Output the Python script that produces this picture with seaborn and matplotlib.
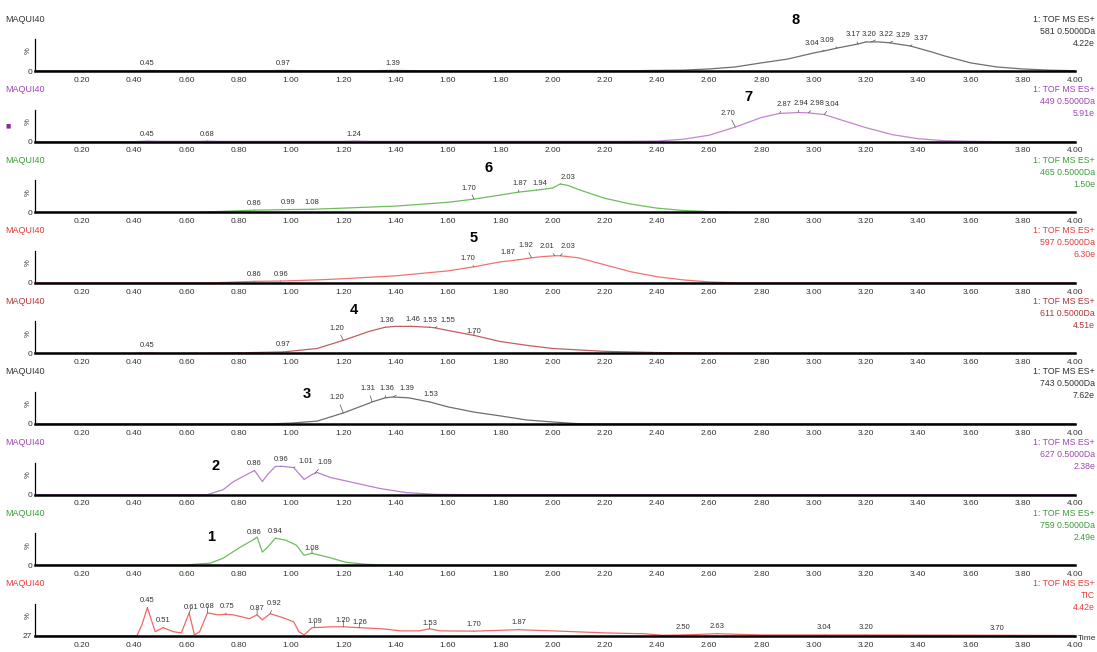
import numpy as np
import matplotlib
matplotlib.use("Agg")
import matplotlib.pyplot as plt
import seaborn as sns

W, H = 1097, 652

# ---- traces: retention time (min) vs relative intensity (%) ----
t8 = [0.02, 0.40, 0.45, 0.50, 0.90, 0.97, 1.05, 1.30, 1.39, 1.50, 2.30, 2.50, 2.60, 2.70, 2.80, 2.90,
      3.00, 3.04, 3.09, 3.17, 3.20, 3.22, 3.25, 3.29, 3.37, 3.45, 3.50, 3.60, 3.70, 3.80, 3.90, 4.00]
v8 = [0, 0, 2, 1, 1, 2, 1, 1, 2, 1, 1, 3, 7, 14, 28, 41,
      62, 69, 79, 93, 100, 100, 100, 97, 86, 66, 52, 28, 14, 7, 3, 1]

t7 = [0.02, 0.40, 0.45, 0.50, 0.65, 0.68, 0.72, 1.20, 1.24, 1.30, 2.30, 2.40, 2.50, 2.60, 2.70, 2.80,
      2.87, 2.94, 2.98, 3.04, 3.10, 3.20, 3.30, 3.40, 3.50, 3.60, 3.70, 4.00]
v7 = [0, 0, 2, 1, 1, 2, 1, 1, 2, 1, 1, 2, 8, 22, 50, 83,
      97, 100, 99, 93, 76, 48, 24, 10, 3, 1, 0, 0]

t6 = [0.02, 0.65, 0.80, 0.86, 0.99, 1.08, 1.20, 1.40, 1.60, 1.70, 1.80, 1.87, 1.94, 2.00, 2.03, 2.06,
      2.10, 2.20, 2.30, 2.40, 2.50, 2.60, 2.70, 4.00]
v6 = [0, 0, 5, 7, 9, 10, 14, 21, 34, 45, 59, 69, 76, 83, 97, 92,
      78, 48, 28, 14, 6, 2, 0, 0]

t5 = [0.02, 0.70, 0.86, 0.96, 1.10, 1.20, 1.40, 1.60, 1.70, 1.80, 1.87, 1.92, 1.96, 2.01, 2.03, 2.10,
      2.20, 2.30, 2.40, 2.50, 2.60, 2.70, 4.00]
v5 = [0, 0, 5, 6, 10, 14, 24, 41, 55, 72, 79, 86, 90, 93, 93, 86,
      62, 38, 21, 10, 3, 0, 0]

t4 = [0.02, 0.40, 0.45, 0.50, 0.60, 0.80, 0.97, 1.10, 1.20, 1.30, 1.36, 1.40, 1.46, 1.53, 1.55, 1.60,
      1.70, 1.80, 1.90, 2.00, 2.20, 2.40, 2.60, 2.80, 4.00]
v4 = [0, 0, 2, 0, 0, 2, 5, 17, 45, 76, 90, 93, 93, 90, 88, 79,
      62, 41, 28, 17, 7, 3, 1, 0, 0]

t3 = [0.02, 0.90, 1.00, 1.10, 1.20, 1.30, 1.31, 1.36, 1.39, 1.45, 1.53, 1.60, 1.70, 1.80, 1.90, 2.00,
      2.10, 2.20, 4.00]
v3 = [0, 0, 3, 10, 38, 72, 76, 90, 93, 90, 76, 59, 41, 28, 14, 7,
      1, 0, 0]

t2 = [0.02, 0.68, 0.74, 0.78, 0.83, 0.86, 0.89, 0.91, 0.94, 0.97, 1.01, 1.05, 1.08, 1.10, 1.15, 1.24,
      1.34, 1.44, 1.55, 1.65, 4.00]
v2 = [0, 0, 17, 45, 69, 83, 45, 69, 97, 97, 93, 52, 69, 76, 59, 41,
      21, 7, 1, 0, 0]

t1 = [0.02, 0.58, 0.69, 0.74, 0.80, 0.86, 0.87, 0.89, 0.91, 0.94, 0.98, 1.02, 1.05, 1.08, 1.14, 1.21,
      1.29, 1.40, 4.00]
v1 = [0, 0, 7, 24, 59, 90, 97, 45, 62, 93, 86, 69, 34, 41, 28, 10,
      3, 0, 0]

# total ion current
t_tic = [0.02, 0.41, 0.43, 0.45, 0.48, 0.51, 0.55, 0.58, 0.61, 0.63, 0.65, 0.68, 0.72, 0.75, 0.78, 0.84,
         0.87, 0.89, 0.92, 0.97, 1.01, 1.03, 1.05, 1.08, 1.16, 1.20, 1.26, 1.35, 1.42, 1.49, 1.53, 1.57,
         1.70, 1.87, 2.00, 2.20, 2.35, 2.42, 2.50, 2.63, 2.80, 3.04, 3.20, 3.70, 4.00]
v_tic = [0, 0, 40, 97, 14, 28, 14, 10, 79, 3, 14, 79, 72, 74, 72, 59,
         72, 55, 76, 62, 48, 14, 3, 28, 31, 31, 28, 24, 17, 17, 24, 17,
         16, 21, 17, 10, 7, 2, 3, 7, 3, 3, 3, 2, 1]

# peak apex labels (min)
pk8 = [0.45, 0.97, 1.39, 3.04, 3.09, 3.17, 3.20, 3.22, 3.29, 3.37]
pk7 = [0.45, 0.68, 1.24, 2.70, 2.87, 2.94, 2.98, 3.04]
pk6 = [0.86, 0.99, 1.08, 1.70, 1.87, 1.94, 2.03]
pk5 = [0.86, 0.96, 1.70, 1.87, 1.92, 2.01, 2.03]
pk4 = [0.45, 0.97, 1.20, 1.36, 1.46, 1.53, 1.55, 1.70]
pk3 = [1.20, 1.31, 1.36, 1.39, 1.53]
pk2 = [0.86, 0.96, 1.01, 1.09]
pk1 = [0.86, 0.94, 1.08]
pk_tic = [0.45, 0.51, 0.61, 0.68, 0.75, 0.87, 0.92, 1.09, 1.20, 1.26, 1.53, 1.70, 1.87,
          2.50, 2.63, 3.04, 3.20, 3.70]

compound_ids = ["8", "7", "6", "5", "4", "3", "2", "1", ""]
channels = ["581 0.5000Da", "449 0.5000Da", "465 0.5000Da", "597 0.5000Da", "611 0.5000Da",
            "743 0.5000Da", "627 0.5000Da", "759 0.5000Da", "TIC"]
intensities = ["4.22e", "5.91e", "1.50e", "6.30e", "4.51e", "7.62e", "2.38e", "2.49e", "4.42e"]

# ---- styling / layout ----
line_colors = ["#6e6e6e", "#c583d4", "#6dbd5c", "#f07272", "#c45e5e", "#6e6e6e", "#bb80cc", "#6dbd5c", "#f06868"]
text_colors = ["#333333", "#a044b4", "#3c9c3c", "#e83a3a", "#b03636", "#333333", "#9c48b0", "#3c9c3c", "#f03a3a"]
# label offsets (dx, extra dy) in pixels
offsets = [
    [(0, 0), (0, 0), (0, 0), (-12, 0), (-10, 1), (-5, 2), (3, 0), (15, 0), (14, 0), (11, 1)],
    [(0, 0), (0, 0), (0, 0), (-7, 7), (4, 2), (3, 2), (9, 2), (8, 3)],
    [(0, 0), (0, 0), (0, 0), (-5, 4), (1, 2), (3, 0), (8, 0)],
    [(0, 0), (0, 0), (-6, 1), (-11, 0), (-6, 5), (-8, 2), (8, 2)],
    [(0, 0), (0, 0), (-6, 5), (2, 0), (2, 0), (0, 0), (13, 0), (0, -3)],
    [(-6, 8), (-4, 6), (2, 2), (14, 1), (1, 0)],
    [(0, 0), (0, 0), (12, -1), (10, 4)],
    [(0, 0), (0, 0), (0, -2)],
    [(0, 0), (0, 0), (2, -2), (0, -1), (1, 1), (0, -1), (4, 3), (0, -1), (0, -1), (1, -2),
     (0, -2), (0, 0), (0, 0), (0, 0), (0, 0), (0, 0), (0, 0), (0, 0)],
]
# position of the bold compound number (min, height in px above baseline)
id_pos = [(2.93, 51), (2.75, 45), (1.755, 44), (1.70, 45), (1.24, 43), (1.06, 30), (0.71, 29), (0.695, 28), (0, 0)]

traces = [(t8, v8, pk8), (t7, v7, pk7), (t6, v6, pk6), (t5, v5, pk5), (t4, v4, pk4),
          (t3, v3, pk3), (t2, v2, pk2), (t1, v1, pk1), (t_tic, v_tic, pk_tic)]

sns.set_style("white")
plt.rcParams["font.family"] = ["Liberation Sans", "DejaVu Sans"]

PX = 0.72  # points per pixel at 100 dpi
AX_H = 34  # axes height in px
YMAX = 117
U = YMAX / AX_H  # data units per px

fig = plt.figure(figsize=(W / 100, H / 100), dpi=100)

for i, (t, v, pk) in enumerate(traces):
    yb = 71 + i * 70.6
    ax = fig.add_axes([35 / W, 1 - yb / H, 1040 / W, AX_H / H])
    sns.lineplot(x=t, y=v, ax=ax, color=line_colors[i], linewidth=0.9)
    ax.set_xlim(0.02, 4.0)
    ax.set_ylim(0, YMAX)
    ax.patch.set_alpha(0)

    for s in ["top", "right"]:
        ax.spines[s].set_visible(False)
    ax.spines["bottom"].set_linewidth(1.8)
    ax.spines["bottom"].set_color("black")
    ax.spines["left"].set_linewidth(0.9)
    ax.spines["left"].set_color("black")
    ax.spines["left"].set_bounds(0, 110)

    majors = np.round(np.arange(0.2, 4.001, 0.2), 2)
    ax.set_xticks(majors)
    ax.set_xticklabels([f"{m:.2f}" for m in majors])
    ax.set_xticks(np.round(np.arange(0.04, 4.0, 0.02), 2), minor=True)
    ax.tick_params(axis="x", which="major", direction="out", length=3.2, width=0.7,
                   labelsize=6, pad=1.0, color="black", labelcolor="#333333")
    ax.tick_params(axis="x", which="minor", direction="out", length=1.8, width=0.5, color="black")
    ax.set_yticks([0])
    ax.set_yticklabels(["27" if i == 8 else "0"])
    ax.set_yticks([22, 44, 66, 88, 110], minor=True)
    ax.tick_params(axis="y", which="major", direction="out", length=0, labelsize=6, pad=2,
                   labelcolor="#333333")
    ax.tick_params(axis="y", which="minor", direction="out", length=1.8, width=0.5, color="black")
    ax.set_xlabel("")
    ax.set_ylabel("")

    fig.text(28 / W, 1 - (yb - 20) / H, "%", rotation=90, fontsize=5.5, ha="center", va="center",
             color="#333333")
    fig.text(5 / W, 1 - (yb - 52) / H, "MAQUI40", fontsize=6.5, ha="left", va="center",
             color=text_colors[i])
    # acquisition info block, right-aligned at the figure edge
    fig.text(1095 / W, 1 - (yb - 52) / H, "1: TOF MS ES+", fontsize=6.3, ha="right", va="center",
             color=text_colors[i])
    fig.text(1095 / W, 1 - (yb - 40) / H, channels[i], fontsize=6.3,
             ha="right", va="center", color=text_colors[i])
    fig.text(1095 / W, 1 - (yb - 28) / H, intensities[i], fontsize=6.3, ha="right", va="center",
             color=text_colors[i])

    # peak apex labels
    for tp, (dx, dy) in zip(pk, offsets[i]):
        yc = float(np.interp(tp, t, v))
        ax.annotate(f"{tp:.2f}", xy=(tp, yc), xytext=(dx * PX, (7 + dy) * PX),
                    textcoords="offset points", ha="center", va="center", fontsize=5.5,
                    color="#333333", annotation_clip=False,
                    arrowprops=dict(arrowstyle="-", lw=0.5, color="#555555",
                                    shrinkA=0, shrinkB=0))

    if compound_ids[i]:
        xt, hp = id_pos[i]
        ax.text(xt, hp * U, compound_ids[i], fontsize=10.5, fontweight="bold",
                ha="center", va="center", color="black", clip_on=False)

# small marker next to the second trace, and the time axis title
fig.text(5 / W, 1 - 126 / H, "\u25a0", fontsize=4, color="#8a2a9a", ha="left", va="center",
         family="DejaVu Sans")
fig.text(1078 / W, 1 - 639 / H, "Time", fontsize=6, ha="left", va="center", color="#333333")

fig.savefig("out.png", dpi=100)
